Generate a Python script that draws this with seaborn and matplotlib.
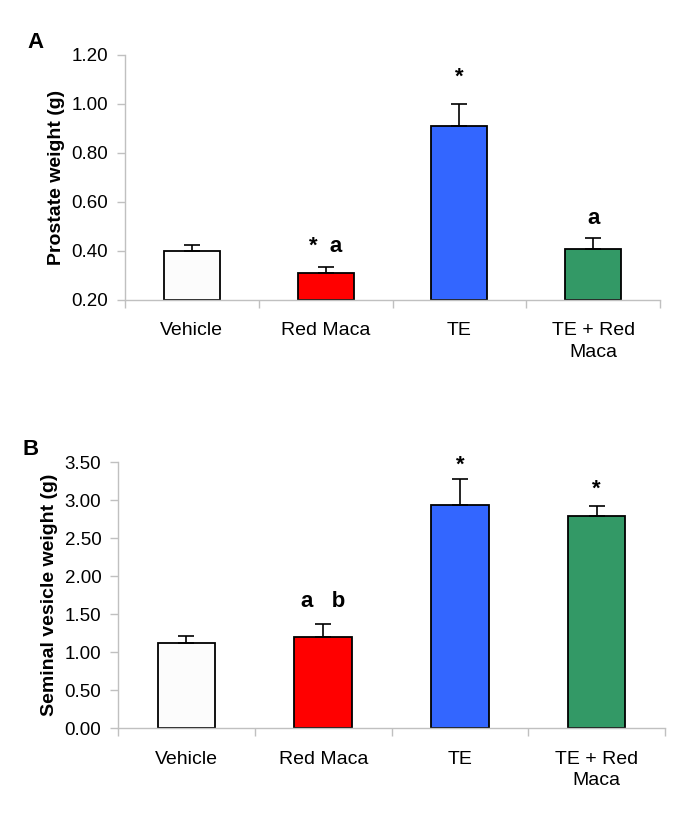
import matplotlib
matplotlib.use("Agg")
import matplotlib.pyplot as plt
import seaborn as sns
import pandas as pd

# Data
groups = ['Vehicle', 'Red Maca', 'TE', 'TE + Red\nMaca']
colors = ['#FCFCFC', '#FF0000', '#3366FF', '#339966']

prostate_mean = [0.40, 0.31, 0.91, 0.41]
prostate_err = [0.023, 0.025, 0.09, 0.043]
prostate_marks = ['', '*  a', '*', 'a']
prostate_mark_y = [0, 0.395, 1.085, 0.51]
prostate_ticks = [0.20, 0.40, 0.60, 0.80, 1.00, 1.20]

vesicle_mean = [1.12, 1.20, 2.93, 2.79]
vesicle_err = [0.10, 0.17, 0.35, 0.13]
vesicle_marks = ['', 'a   b', '*', '*']
vesicle_mark_y = [0, 1.60, 3.39, 3.075]
vesicle_ticks = [0.00, 0.50, 1.00, 1.50, 2.00, 2.50, 3.00, 3.50]

sns.set_style("white")
plt.rcParams['font.family'] = ['Liberation Sans', 'DejaVu Sans']
plt.rcParams['text.color'] = 'black'
plt.rcParams['axes.labelcolor'] = 'black'

fig = plt.figure(figsize=(6.85, 8.18), dpi=100)
ax1 = fig.add_axes([0.1825, 0.6333, 0.781, 0.2995])
ax2 = fig.add_axes([0.1723, 0.1095, 0.7987, 0.3257])


def draw_panel(ax, mean, err, marks, mark_y, ticks, ylabel, base):
    df = pd.DataFrame({'group': groups, 'value': mean})
    sns.barplot(data=df, x='group', y='value', hue='group', palette=colors,
                saturation=1, legend=False, width=0.42, edgecolor='black',
                linewidth=1.3, ax=ax)
    # bars start at the axis floor
    for p in ax.patches:
        h = p.get_height()
        p.set_y(base)
        p.set_height(h - base)
    xs = list(range(len(groups)))
    ax.errorbar(xs, mean, yerr=[[0] * len(err), err], fmt='none',
                ecolor='black', elinewidth=1.2, capsize=6, capthick=1.2,
                zorder=1)
    for x, t, y in zip(xs, marks, mark_y):
        if t:
            ax.text(x, y, t, ha='center', va='baseline', fontsize=16,
                    fontweight='bold', color='black')
    ax.set_ylim(ticks[0], ticks[-1])
    ax.set_xlim(-0.5, len(groups) - 0.5)
    ax.set_yticks(ticks)
    ax.set_yticklabels([f'{t:.2f}' for t in ticks], fontsize=13.5)
    ax.set_xticks(xs)
    ax.set_xticklabels(groups, fontsize=14, linespacing=1.35)
    ax.set_xticks([i - 0.5 for i in range(len(groups) + 1)], minor=True)
    ax.tick_params(axis='x', which='major', length=0, pad=16,
                   labelcolor='black')
    ax.tick_params(axis='x', which='minor', length=6, color='#C0C0C0',
                   width=1, bottom=True, direction='out')
    ax.tick_params(axis='y', length=6, color='#C0C0C0', width=1, left=True,
                   direction='out', pad=6, labelcolor='black')
    for s in ['top', 'right']:
        ax.spines[s].set_visible(False)
    for s in ['left', 'bottom']:
        ax.spines[s].set_color('#C0C0C0')
        ax.spines[s].set_linewidth(1)
    ax.set_xlabel('')
    ax.set_ylabel(ylabel, fontsize=14, fontweight='bold', labelpad=5)


draw_panel(ax1, prostate_mean, prostate_err, prostate_marks, prostate_mark_y,
           prostate_ticks, 'Prostate weight (g)', 0.20)
draw_panel(ax2, vesicle_mean, vesicle_err, vesicle_marks, vesicle_mark_y,
           vesicle_ticks, 'Seminal vesicle weight (g)', 0.0)

fig.text(27 / 685, 1 - 48 / 818, 'A', fontsize=16, fontweight='bold')
fig.text(22 / 685, 1 - 455 / 818, 'B', fontsize=16, fontweight='bold')

fig.savefig('out.png', dpi=100)
